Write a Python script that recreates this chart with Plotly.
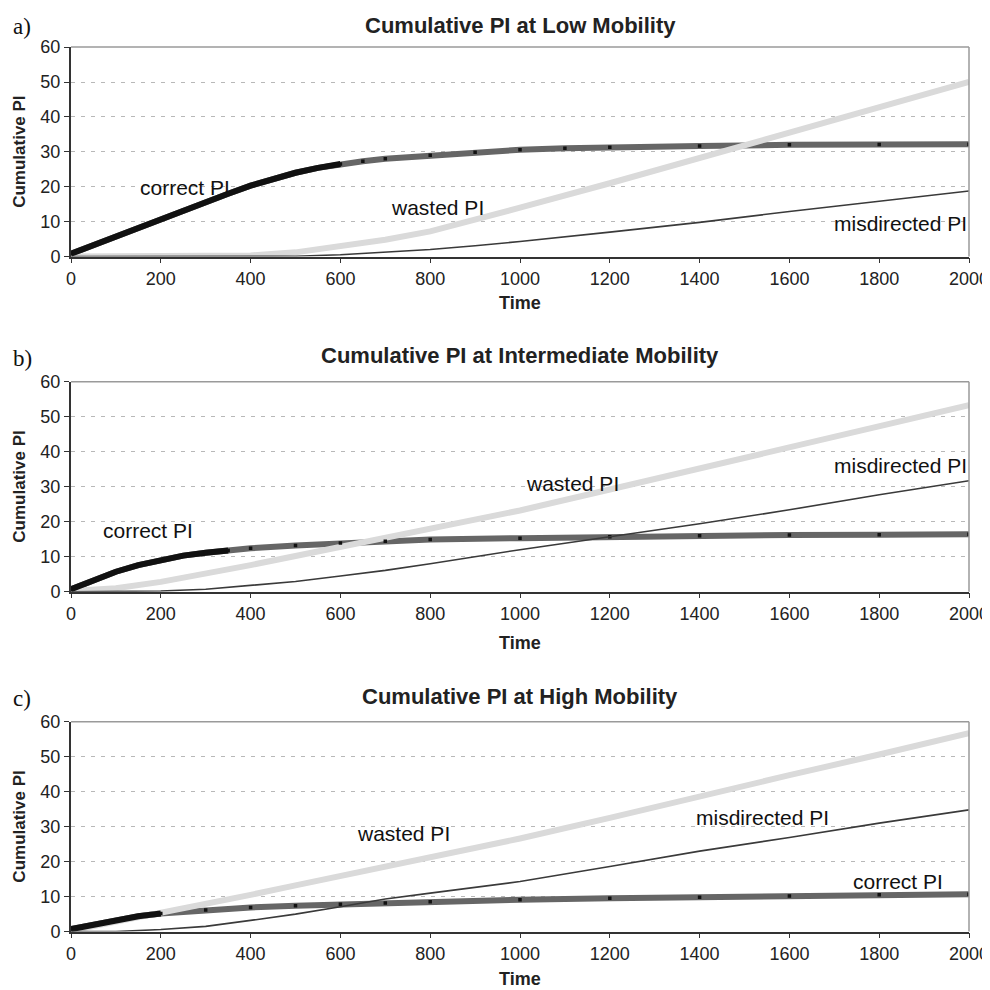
import plotly.graph_objects as go

# ---------------- data ----------------
PANEL_TITLES = ["Cumulative PI at Low Mobility",
                "Cumulative PI at Intermediate Mobility",
                "Cumulative PI at High Mobility"]
PANEL_LETTERS = ["a)", "b)", "c)"]
X_TICKS = [0, 200, 400, 600, 800, 1000, 1200, 1400, 1600, 1800, 2000]
Y_TICKS = [0, 10, 20, 30, 40, 50, 60]

# Panel a: low mobility
A_CORRECT_T = [0, 50, 100, 150, 200, 250, 300, 350, 400, 450, 500, 550, 600, 650,
               700, 800, 900, 1000, 1100, 1200, 1400, 1600, 1800, 2000]
A_CORRECT_PI = [0.8, 3.3, 5.7, 8.2, 10.7, 13.2, 15.6, 18.0, 20.3, 22.3, 24.0, 25.4, 26.5, 27.3,
                28.0, 29.0, 29.9, 30.6, 31.0, 31.3, 31.7, 32.0, 32.1, 32.2]
A_WASTED_T = [0, 300, 400, 500, 600, 700, 800, 900, 1000, 1200, 1400, 1600, 1800, 2000]
A_WASTED_PI = [0, 0, 0.3, 1.2, 2.8, 4.8, 7.2, 10.5, 14.0, 21.0, 28.2, 35.3, 42.7, 50.0]
A_MISDIR_T = [0, 450, 500, 600, 700, 800, 900, 1000, 1200, 1400, 1600, 1800, 2000]
A_MISDIR_PI = [0, 0, 0.1, 0.5, 1.2, 2.0, 3.1, 4.3, 7.0, 9.8, 12.9, 15.8, 18.8]

# Panel b: intermediate mobility
B_CORRECT_T = [0, 50, 100, 150, 200, 250, 300, 350, 400, 500, 600, 700, 800,
               1000, 1200, 1400, 1600, 1800, 2000]
B_CORRECT_PI = [0.7, 3.2, 5.7, 7.6, 9.1, 10.3, 11.1, 11.8, 12.4, 13.2, 13.9, 14.4, 14.9,
                15.3, 15.7, 16.0, 16.2, 16.3, 16.4]
B_WASTED_T = [0, 100, 200, 300, 400, 500, 600, 700, 800, 900, 1000, 1200, 1400, 1600, 1800, 2000]
B_WASTED_PI = [0.2, 1.0, 2.8, 5.1, 7.6, 10.2, 12.8, 15.3, 17.8, 20.5, 23.2, 29.2, 35.2, 41.2, 47.2, 53.3]
B_MISDIR_T = [0, 150, 200, 300, 400, 500, 600, 700, 800, 900, 1000, 1200, 1400, 1600, 1800, 2000]
B_MISDIR_PI = [0, 0, 0.2, 0.7, 1.7, 2.9, 4.5, 6.1, 8.0, 10.0, 12.0, 15.7, 19.4, 23.4, 27.7, 31.7]

# Panel c: high mobility
C_CORRECT_T = [0, 50, 100, 150, 200, 300, 400, 500, 600, 700, 800,
               1000, 1200, 1400, 1600, 1800, 2000]
C_CORRECT_PI = [0.7, 2.0, 3.3, 4.4, 5.2, 6.2, 6.9, 7.4, 7.8, 8.2, 8.5,
                9.1, 9.5, 9.8, 10.2, 10.5, 10.7]
C_WASTED_T = [0, 100, 200, 300, 400, 500, 600, 700, 800, 900, 1000, 1200, 1400, 1600, 1800, 2000]
C_WASTED_PI = [0.3, 2.8, 5.2, 7.9, 10.5, 13.2, 15.8, 18.4, 21.0, 23.8, 26.6, 32.5, 38.7, 44.7, 50.6, 56.7]
C_MISDIR_T = [0, 100, 200, 300, 400, 500, 600, 700, 800, 900, 1000, 1200, 1400, 1600, 1800, 2000]
C_MISDIR_PI = [0, 0, 0.6, 1.5, 3.2, 5.0, 7.1, 9.3, 11.0, 12.6, 14.3, 18.6, 23.0, 26.9, 31.0, 34.8]

# in-plot labels: (text, time, value, anchor)
A_LABELS = [("correct PI", 254, 19.7, "center"), ("wasted PI", 816, 14.0, "center"),
            ("misdirected PI", 2000, 9.4, "right")]
B_LABELS = [("correct PI", 172, 17.6, "center"), ("wasted PI", 1116, 30.8, "center"),
            ("misdirected PI", 2000, 36.2, "right")]
C_LABELS = [("wasted PI", 740, 28.0, "center"), ("misdirected PI", 1541, 32.5, "center"),
            ("correct PI", 1842, 14.3, "center")]

PANELS = [
    (A_CORRECT_T, A_CORRECT_PI, A_WASTED_T, A_WASTED_PI, A_MISDIR_T, A_MISDIR_PI, A_LABELS),
    (B_CORRECT_T, B_CORRECT_PI, B_WASTED_T, B_WASTED_PI, B_MISDIR_T, B_MISDIR_PI, B_LABELS),
    (C_CORRECT_T, C_CORRECT_PI, C_WASTED_T, C_WASTED_PI, C_MISDIR_T, C_MISDIR_PI, C_LABELS),
]

# ---------------- styling / layout ----------------
W = H = 990
# measured page offset/scale of the photographed page
OX = 8.0
OY, SY = 17.9, 0.98
SANS = "Arial, Liberation Sans, Helvetica, sans-serif"
SERIF = "Times New Roman, Liberation Serif, serif"

# target positions in the photographed picture (pixels)
PLOT_LEFT, PLOT_RIGHT = 71, 969
PLOT_PX = [(47, 256.5), (381.7, 591.7), (721.7, 931.7)]
TITLE_PX = [25.5, 355.5, 696.5]
LETTER_PX = [26, 358, 699]
TIME_PX = [303, 643, 979]
BLACK_CUTOFF = [620, 360, 200]   # early dense part of "correct" drawn solid black

ML = PLOT_LEFT - OX
MR = W - (PLOT_RIGHT - OX)
PW = W - ML - MR


def py(p):
    """picture y pixel -> paper fraction"""
    f = (p - OY) / SY
    return 1 - f / H


def px(p):
    """picture x pixel -> paper fraction"""
    return (p - OX - ML) / PW


fig = go.Figure()
annotations = []
shapes = []

for i, (ct, cv, wt, wv, mt, mv, labels) in enumerate(PANELS):
    n = "" if i == 0 else str(i + 1)
    xa, ya = "x" + n, "y" + n
    top, bot = PLOT_PX[i]

    # correct PI: thick grey band
    fig.add_trace(go.Scatter(x=ct, y=cv, mode="lines", xaxis=xa, yaxis=ya,
                             line=dict(color="#666666", width=6), showlegend=False,
                             hoverinfo="skip"))
    # wasted PI: light grey thick
    fig.add_trace(go.Scatter(x=wt, y=wv, mode="lines", xaxis=xa, yaxis=ya,
                             line=dict(color="#dadada", width=6), showlegend=False,
                             hoverinfo="skip"))
    # correct PI, early dense part in black
    et = [t for t in ct if t <= BLACK_CUTOFF[i]]
    ev = cv[:len(et)]
    fig.add_trace(go.Scatter(x=et, y=ev, mode="lines", xaxis=xa, yaxis=ya,
                             line=dict(color="#111111", width=6), showlegend=False,
                             hoverinfo="skip"))
    # correct PI sampled output points, black dots
    fig.add_trace(go.Scatter(x=ct, y=cv, mode="markers", xaxis=xa, yaxis=ya,
                             marker=dict(color="#111111", size=3.5, symbol="square"),
                             showlegend=False, hoverinfo="skip"))
    # misdirected PI: thin dark
    fig.add_trace(go.Scatter(x=mt, y=mv, mode="lines", xaxis=xa, yaxis=ya,
                             line=dict(color="#3a3a3a", width=1.6), showlegend=False,
                             hoverinfo="skip"))

    axis_x = dict(domain=[0, 1], anchor=ya, range=[0, 2000], tickvals=X_TICKS,
                  ticks="outside", ticklen=5, tickwidth=1, tickcolor="#333",
                  showline=True, linecolor="#333", linewidth=1.5,
                  showgrid=False, zeroline=False, ticklabeloverflow="allow",
                  tickfont=dict(family=SANS, size=18, color="#222"))
    axis_y = dict(domain=[py(bot), py(top)], anchor=xa, range=[0, 60], tickvals=Y_TICKS,
                  ticks="outside", ticklen=5, tickwidth=1, tickcolor="#333",
                  showline=True, linecolor="#333", linewidth=2,
                  showgrid=True, gridcolor="#b8b8b8", gridwidth=1, griddash="4px,6px",
                  zeroline=False, ticklabeloverflow="allow",
                  tickfont=dict(family=SANS, size=18, color="#222"))
    fig.update_layout(**{"xaxis" + n: axis_x, "yaxis" + n: axis_y})

    # grey top and right frame
    shapes.append(dict(type="line", xref=xa + " domain", yref=ya + " domain",
                       x0=0, x1=1, y0=1, y1=1, line=dict(color="#9a9a9a", width=1.5)))
    shapes.append(dict(type="line", xref=xa + " domain", yref=ya + " domain",
                       x0=1, x1=1, y0=0, y1=1, line=dict(color="#9a9a9a", width=1.5)))

    # title
    annotations.append(dict(text="<b>" + PANEL_TITLES[i] + "</b>", xref="paper", yref="paper",
                            x=px((PLOT_LEFT + PLOT_RIGHT) / 2), y=py(TITLE_PX[i]),
                            xanchor="center", yanchor="middle",
                            showarrow=False, font=dict(family=SANS, size=22, color="#222")))
    # panel letter
    annotations.append(dict(text=PANEL_LETTERS[i], xref="paper", yref="paper",
                            x=px(11), y=py(LETTER_PX[i]),
                            xanchor="left", yanchor="middle", showarrow=False,
                            font=dict(family=SERIF, size=23, color="#111")))
    # y title
    annotations.append(dict(text="<b>Cumulative PI</b>", xref="paper", yref="paper",
                            x=px(20), y=py((top + bot) / 2),
                            xanchor="center", yanchor="middle", textangle=-90,
                            showarrow=False, font=dict(family=SANS, size=17, color="#222")))
    # x title
    annotations.append(dict(text="<b>Time</b>", xref="paper", yref="paper",
                            x=px((PLOT_LEFT + PLOT_RIGHT) / 2), y=py(TIME_PX[i]),
                            xanchor="center", yanchor="middle",
                            showarrow=False, font=dict(family=SANS, size=18, color="#222")))
    # series labels
    for text, t, v, anc in labels:
        annotations.append(dict(text=text, xref=xa, yref=ya, x=t, y=v,
                                xanchor=anc, yanchor="middle", showarrow=False,
                                font=dict(family=SANS, size=21, color="#111")))

fig.update_layout(width=W, height=H, margin=dict(l=ML, r=MR, t=0, b=0),
                  paper_bgcolor="white", plot_bgcolor="white",
                  annotations=annotations, shapes=shapes, showlegend=False)

fig.write_html("out.html")
